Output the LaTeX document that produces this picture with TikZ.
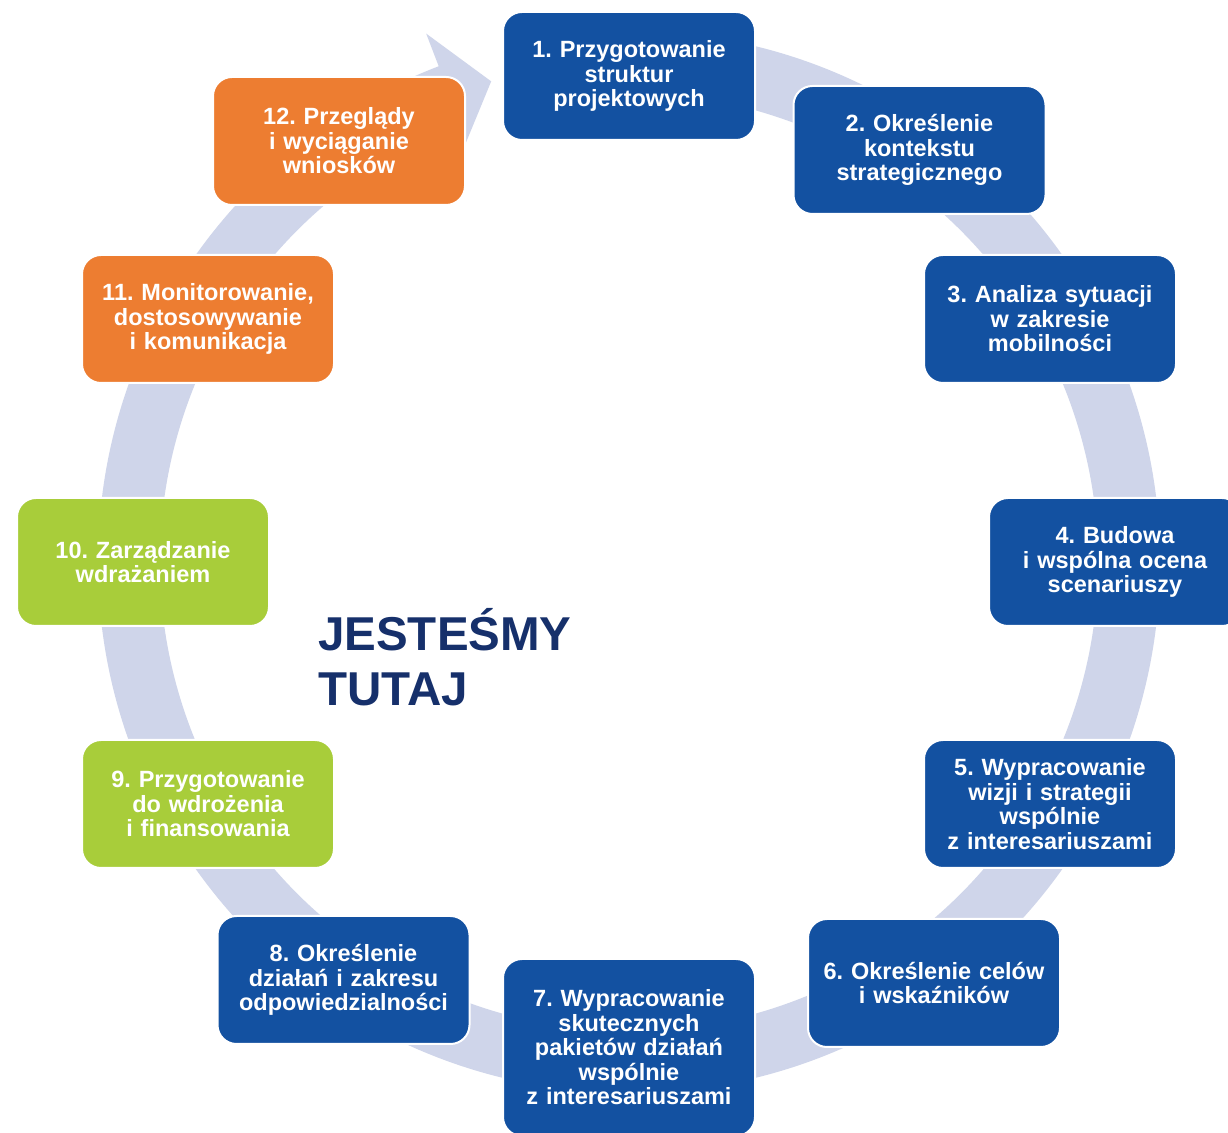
\documentclass[tikz,border=0pt]{standalone}
\usepackage{fontspec}
\setmainfont{Liberation Sans}
\frenchspacing
\usetikzlibrary{calc}
\definecolor{boxblue}{RGB}{19,81,161}
\definecolor{boxorange}{RGB}{237,125,49}
\definecolor{boxgreen}{RGB}{168,205,58}
\definecolor{ringcol}{RGB}{207,213,234}
\definecolor{navy}{RGB}{22,48,107}
\tikzset{
  stepbox/.style={rectangle, rounded corners=19pt, draw=white, line width=2pt,
    minimum width=252pt, minimum height=128pt, inner sep=0pt, text width=240pt,
    align=center, text=white, font=\bfseries\fontsize{23.5}{24.5}\selectfont},
  bluebox/.style={stepbox, fill=boxblue},
  orangebox/.style={stepbox, fill=boxorange},
  greenbox/.style={stepbox, fill=boxgreen},
}
\begin{document}
\begin{tikzpicture}[x=1pt,y=1pt]
\clip (0,0) rectangle (1228,1132);
\fill[white] (0,0) rectangle (1228,1132);
\coordinate (C) at (629,570);
% circular arrow ring
\fill[ringcol] ($(C)+(85:531)$) arc[start angle=85, end angle=-249, radius=531]
  -- ($(C)+(-249:566)$) -- ($(C)+(-254:500)$) -- ($(C)+(-247.5:440)$)
  -- ($(C)+(-249:469)$) arc[start angle=-249, end angle=85, radius=469] -- cycle;
% steps
\node[bluebox] (s1) at (629,1056) {1. Przygotowanie\\struktur\\projektowych};
\node[bluebox] (s2) at (919.5,982) {2. Określenie\\kontekstu\\strategicznego};
\node[bluebox] (s3) at (1050,813) {3. Analiza sytuacji\\w zakresie\\mobilności};
\node[bluebox] (s4) at (1115,570) {4. Budowa\\i wspólna ocena\\scenariuszy};
\node[bluebox] (s5) at (1050,328) {5. Wypracowanie\\wizji i strategii\\wspólnie\\z interesariuszami};
\node[bluebox] (s6) at (934,149) {6. Określenie celów\\i wskaźników};
\node[bluebox, minimum height=177pt] (s7) at (629,84.5) {7. Wypracowanie\\skutecznych\\pakietów działań\\wspólnie\\z interesariuszami};
\node[bluebox] (s8) at (343.5,152) {8. Określenie\\działań i zakresu\\odpowiedzialności};
\node[greenbox] (s9) at (208,328) {9. Przygotowanie\\do wdrożenia\\i finansowania};
\node[greenbox] (s10) at (143,570) {10. Zarządzanie\\wdrażaniem};
\node[orangebox] (s11) at (208,813) {11. Monitorowanie,\\dostosowywanie\\i komunikacja};
\node[orangebox] (s12) at (339,991) {12. Przeglądy\\i wyciąganie\\wniosków};
% centre label
\node[anchor=north west, inner sep=0pt, align=left, text=navy,
  font=\bfseries\fontsize{47.5}{55}\selectfont] (here) at (318,524) {JESTEŚMY\\TUTAJ};
\end{tikzpicture}
\end{document}
